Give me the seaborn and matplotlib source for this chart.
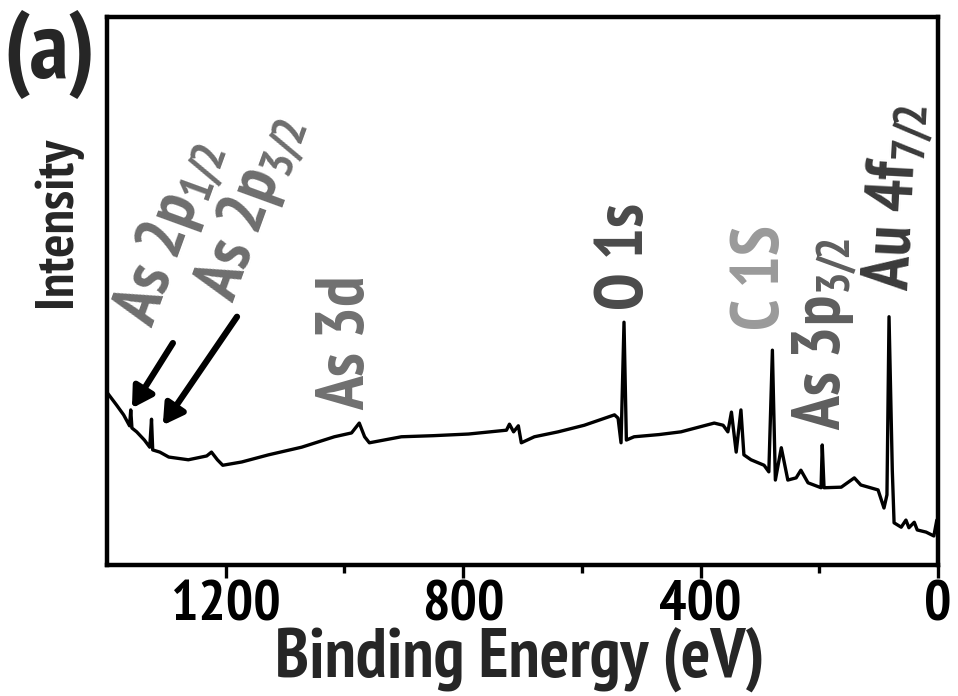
import matplotlib
matplotlib.use("Agg")
import matplotlib.pyplot as plt
from matplotlib import font_manager as fm
import seaborn as sns
import pandas as pd

# XPS survey spectrum (binding energy in eV, intensity in arbitrary units)
energy = [1400, 1384, 1372, 1362, 1360, 1358, 1350, 1337, 1328, 1325, 1323,
          1311, 1296, 1263, 1232, 1224, 1214, 1205, 1173, 1128, 1072, 1017,
          988, 975, 966, 958, 904, 850, 791, 727, 722, 715, 707, 702, 680,
          640, 596, 545, 539, 534, 529, 525, 512, 470, 433, 377, 362, 354,
          348, 340, 332, 327, 315, 293, 285, 279, 274, 264, 253, 239, 231,
          219, 197, 195, 192, 163, 141, 130, 101, 91, 86, 82.5, 77, 74, 62,
          54, 49, 40, 35, 20, 7, 2]
intensity = [31.5, 29.2, 27.4, 25.4, 28.3, 25.0, 24.3, 22.8, 21.5, 26.6, 21.0,
             20.6, 19.7, 19.2, 19.9, 20.6, 19.2, 18.2, 18.8, 20.1, 21.5, 23.4,
             24.1, 25.9, 23.4, 22.3, 23.4, 23.6, 23.9, 24.6, 25.7, 24.3, 25.4,
             22.3, 23.4, 24.3, 25.5, 27.4, 26.8, 22.3, 44.3, 22.8, 23.4, 23.8,
             24.3, 25.9, 25.5, 24.3, 27.9, 20.6, 28.3, 20.1, 19.2, 18.2, 17.0,
             39.2, 15.5, 21.4, 15.5, 15.9, 17.3, 15.0, 14.1, 21.9, 14.1, 14.2,
             15.9, 14.6, 13.7, 10.4, 12.8, 45.3, 17.3, 7.7, 6.9, 8.2, 6.8, 7.8,
             6.4, 6.0, 5.3, 8.2]

x_ticks = [1200, 800, 400, 0]
x_minor = [1000, 600, 200]

# Peak labels: text, (energy, intensity) of the label's lower end, rotation, colour
peak_labels = [r"As 2p$_{1/2}$", r"As 2p$_{3/2}$", "As 3d", "O 1s", "C 1S",
               r"As 3p$_{3/2}$", r"Au 4f$_{7/2}$"]
label_energy = [1294, 1157, 995, 526, 296, 190, 69]
label_level = [42.0, 46.5, 28.3, 46.5, 42.9, 24.6, 49.8]
label_rotation = [70, 70, 90, 90, 90, 90, 87]
label_color = ["#6e6e6e", "#6e6e6e", "#707070", "#4a4a4a", "#9a9a9a",
               "#5e5e5e", "#3a3a3a"]

# Arrows pointing at the As 2p lines: tail -> head
arrow_tail = [(1289, 40.5), (1181, 45.3)]
arrow_head = [(1358, 28.6), (1306, 25.5)]

sns.set_theme(style="white")

# pick a narrow bold sans face
installed = {f.name for f in fm.fontManager.ttflist}
preferred = ["Liberation Sans Narrow", "Arial Narrow", "PT Sans Narrow",
             "Archivo Narrow", "Roboto Condensed", "Open Sans Condensed",
             "Fira Sans Condensed", "IBM Plex Sans Condensed",
             "Encode Sans Condensed", "Barlow Semi Condensed", "Asap Condensed",
             "Ubuntu Condensed", "Carlito", "Open Sans"]
FAMILY = next((n for n in preferred if n in installed), "DejaVu Sans")
plt.rcParams["font.family"] = [FAMILY, "DejaVu Sans"]
plt.rcParams["font.weight"] = "bold"
plt.rcParams["mathtext.fontset"] = "custom"
for key in ["rm", "bf", "it", "sf"]:
    plt.rcParams[f"mathtext.{key}"] = f"{FAMILY}:bold"
plt.rcParams["mathtext.default"] = "bf"

df = pd.DataFrame({"Binding Energy (eV)": energy, "Intensity": intensity})

fig = plt.figure(figsize=(9.58, 6.96), dpi=100)
renderer = fig.canvas.get_renderer()


def fitted_size(s, target_px, base=40.0):
    """Font size at which string s spans target_px pixels horizontally."""
    t = fig.text(0, 0, s, fontsize=base, fontweight="bold")
    w = t.get_window_extent(renderer).width
    t.remove()
    return base * target_px / w


tick_fs = fitted_size("1200", 110)
xlabel_fs = fitted_size("Binding Energy (eV)", 488)
ylabel_fs = fitted_size("Intensity", 170)
panel_fs = fitted_size("(a)", 92)
peak_fs = fitted_size("As 3d", 134)

ax = fig.add_axes([107 / 958, 1 - 565 / 696, 831 / 958, 548 / 696])

sns.lineplot(data=df, x="Binding Energy (eV)", y="Intensity", ax=ax,
             color="black", lw=2.4, sort=False, estimator=None)

ax.set_xlim(1400, 0)
ax.set_ylim(0, 100)
ax.set_xticks(x_ticks)
ax.set_xticks(x_minor, minor=True)
ax.set_xticklabels([str(t) for t in x_ticks], fontsize=tick_fs,
                   fontweight="bold")
ax.set_yticks([])
ax.tick_params(axis="x", which="major", direction="out", length=9, width=2.4,
               pad=2, bottom=True, colors="black")
ax.tick_params(axis="x", which="minor", direction="out", length=6, width=2.4,
               bottom=True, colors="black")
for side in ["left", "right", "top", "bottom"]:
    ax.spines[side].set_visible(True)
    ax.spines[side].set_linewidth(3.2)
    ax.spines[side].set_color("black")

ax.set_xlabel("Binding Energy (eV)", fontsize=xlabel_fs, fontweight="bold")
ax.xaxis.set_label_coords(0.497, -0.115)
ax.set_ylabel("Intensity", fontsize=ylabel_fs, fontweight="bold")
ax.yaxis.set_label_coords(-0.03, 0.626)

for txt, e, lv, rot, col in zip(peak_labels, label_energy, label_level,
                                label_rotation, label_color):
    ax.text(e, lv, txt, rotation=rot, ha="center", va="bottom",
            fontsize=peak_fs, fontweight="bold", color=col)

for tail, head in zip(arrow_tail, arrow_head):
    ax.annotate("", xy=head, xytext=tail,
                arrowprops=dict(arrowstyle="-|>,head_length=0.6,head_width=0.35",
                                lw=4.5, color="black", mutation_scale=20,
                                shrinkA=0, shrinkB=0))

fig.text(50 / 958, 1 - 54 / 696, "(a)", fontsize=panel_fs, fontweight="bold",
         ha="center", va="center")

fig.savefig("out.png", dpi=100, facecolor="white")
